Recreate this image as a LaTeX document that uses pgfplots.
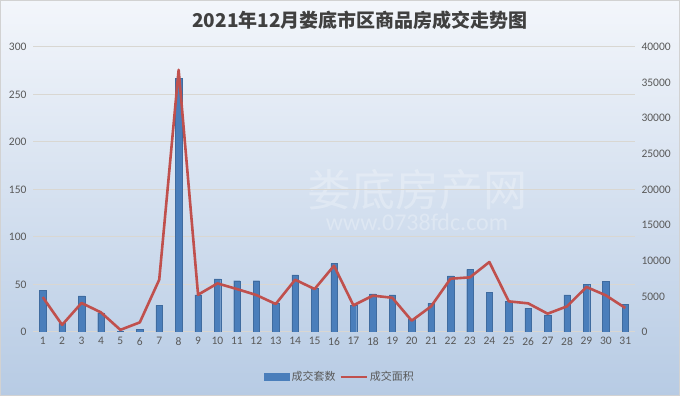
\documentclass[border=0pt]{standalone}
\usepackage{pgfplots}
\pgfplotsset{compat=1.18}
\usepackage{fontspec}
\setmainfont{Carlito}
\newfontfamily\cjk{Noto Sans CJK SC}
\definecolor{barblue}{HTML}{4A7EBB}
\definecolor{linered}{HTML}{C0504D}
\definecolor{tickgray}{HTML}{595959}
\definecolor{gridc}{HTML}{D9D7D2}
\definecolor{bgtop}{HTML}{F3F6FB}
\definecolor{bgbot}{HTML}{B7CBE4}
\pgfplotstableread{
day count area
1 44 4900
2 9 1000
3 38 4070
4 20 2750
5 1 300
6 3 1350
7 28 7340
8 267 36800
9 39 5230
10 56 6820
11 54 6030
12 54 5190
13 30 3930
14 60 7340
15 46 6030
16 72 9300
17 28 3740
18 40 5100
19 39 4810
20 13 1590
21 30 3600
22 59 7480
23 66 7670
24 42 9820
25 32 4300
26 25 4020
27 18 2570
28 39 3600
29 50 6320
30 53 5140
31 29 3370
}\datatable
\begin{document}
\begin{tikzpicture}[x=1pt,y=1pt]
\shade[top color=bgtop,bottom color=bgbot] (0,0) rectangle (680,396);
\draw[gray!35,line width=0.8pt] (0.4,0.4) rectangle (679.6,395.6);
\node[font=\cjk\bfseries\fontsize{19}{22}\selectfont,text=black!75] at (360,376) {2021年12月娄底市区商品房成交走势图};
\node[font=\cjk\fontsize{44}{48}\selectfont,text=white,opacity=0.28] at (417,206) {娄底房产网};
\node[font=\fontsize{24}{26}\selectfont,text=white,opacity=0.28] at (417,174) {www.0738fdc.com};
\begin{axis}[
  at={(33pt,64pt)}, anchor=south west,
  scale only axis, width=602pt, height=285pt,
  xmin=0.5, xmax=31.5, ymin=0, ymax=300,
  xtick={1,...,31}, ytick={0,50,...,300},
  axis line style={draw=none},
  major tick length=0pt,
  ymajorgrids, grid style={gridc,line width=1pt},
  tick label style={font=\fontsize{11.5}{13}\selectfont,text=tickgray},
  /pgf/number format/assume math mode=true,
  yticklabel style={xshift=-3pt},
  xticklabel style={yshift=-2pt},
]
\addplot[ybar, bar width=6.5pt, fill=barblue, draw=barblue!85!black, line width=0.3pt] table[x=day,y=count]{\datatable};
\end{axis}
\begin{axis}[
  at={(33pt,64pt)}, anchor=south west,
  scale only axis, width=602pt, height=285pt,
  xmin=0.5, xmax=31.5, ymin=0, ymax=40000,
  axis y line*=right, axis x line=none,
  axis line style={draw=none},
  xtick=\empty, ytick={0,5000,...,40000},
  major tick length=0pt,
  scaled y ticks=false,
  tick label style={font=\fontsize{11.5}{13}\selectfont,text=tickgray},
  /pgf/number format/assume math mode=true,
  /pgf/number format/1000 sep={},
  yticklabel style={xshift=3pt},
  legend columns=2,
  legend style={at={(0.51,-0.158)}, anchor=center, draw=none, fill=none,
    font=\cjk\fontsize{11}{13}\selectfont, text=tickgray,
    /tikz/every even column/.append style={column sep=2pt},
    inner sep=0pt},
]
\addlegendimage{legend image code/.code={\fill[barblue] (0pt,-3.5pt) rectangle (25pt,3.5pt);}}
\addlegendentry{成交套数}
\addplot[linered, line width=2.6pt, mark=none, line join=round,
  legend image code/.code={\draw[linered,line width=2.2pt] (0pt,0pt) -- (26pt,0pt);}]
  table[x=day,y=area]{\datatable};
\addlegendentry{成交面积}
\end{axis}
\end{tikzpicture}
\end{document}
